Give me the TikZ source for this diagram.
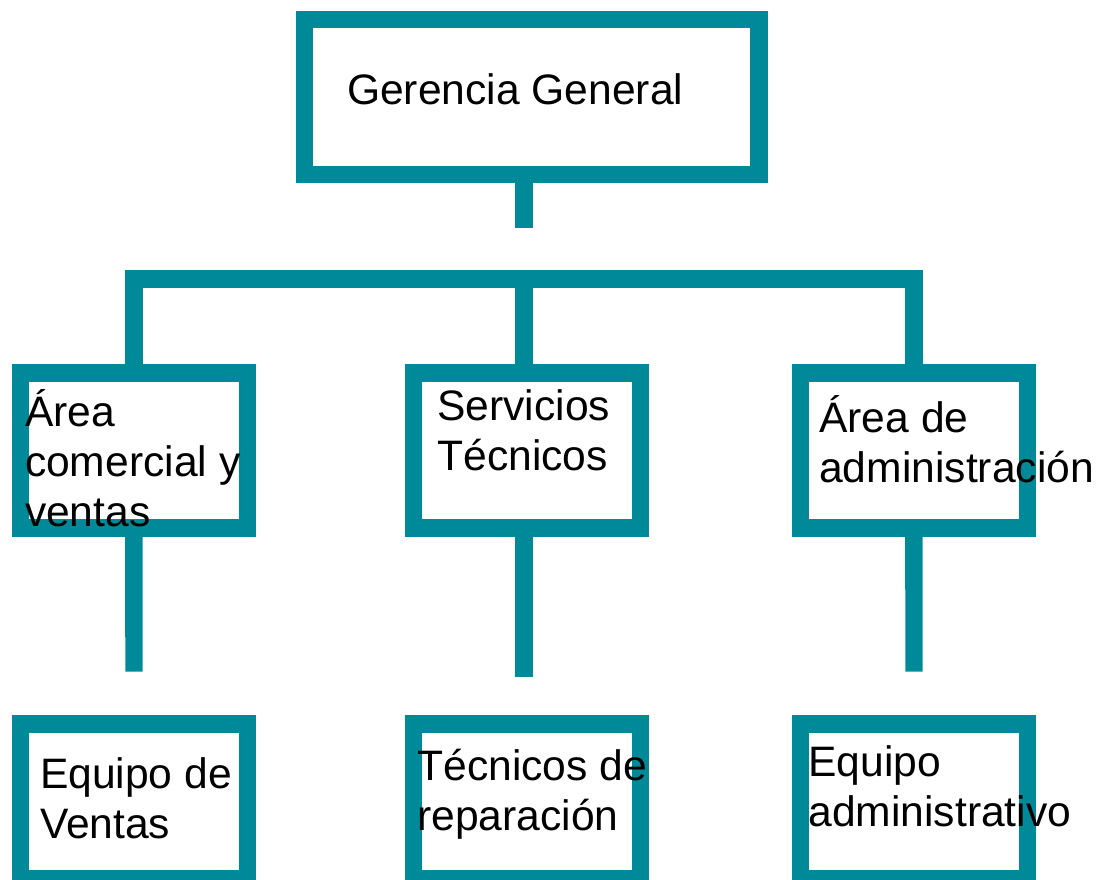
\documentclass[tikz,border=0pt]{standalone}
\usepackage{fontspec}
\setmainfont{Liberation Sans}
\usepackage{tikz}

\definecolor{orgteal}{RGB}{0,138,153}

\begin{document}
\begin{tikzpicture}[x=1pt, y=-1pt, line width=17.4pt, draw=orgteal]
	\tikzset{unit/.style={rectangle, draw=orgteal, fill=white, inner sep=0pt, minimum width=227pt, minimum height=155pt},
		lbl/.style={anchor=base west, inner sep=0pt, outer sep=0pt, align=left, font=\fontsize{42.6}{50}\selectfont}}
	\useasboundingbox (0,0) rectangle (1103,879);
	\node[unit, minimum width=454.5pt, minimum height=154.7pt] (gg) at (531.75,97) {};
	\node[unit] (com) at (133.8,450.5) {};
	\node[unit] (tec) at (527.2,450.5) {};
	\node[unit] (adm) at (913.9,450.5) {};
	\node[unit] (ven) at (133.8,801.3) {};
	\node[unit] (rep) at (527.2,801.3) {};
	\node[unit] (eqa) at (913.9,801.3) {};
	\coordinate (stem) at (524,227.7);
	\coordinate (bus) at (524,279);
	\coordinate (comend) at (134,671.7);
	\coordinate (tecend) at (524,677.3);
	\coordinate (admend) at (914,671.7);
	\draw[orgteal] (gg.south -| stem) -- (stem);
	\draw[orgteal] (com.north) |- (bus) -| (adm.north);
	\draw[orgteal] (bus) -- (bus |- tec.north);
	\draw[orgteal] (com.south) -- (comend);
	\draw[orgteal] (tecend |- tec.south) -- (tecend);
	\draw[orgteal] (adm.south) -- (admend);
	\node[lbl] (gg-txt) at (347,104.3) {Gerencia General};
	\node[lbl] (com-txt) at (25,526.7) {Área\\comercial y\\ventas};
	\node[lbl] (tec-txt) at (437.3,470.7) {Servicios\\Técnicos};
	\node[lbl] (adm-txt) at (819.3,482) {Área de\\administración};
	\node[lbl] (ven-txt) at (40,838.3) {Equipo de\\Ventas};
	\node[lbl] (rep-txt) at (417.3,830) {Técnicos de\\reparación};
	\node[lbl] (eqa-txt) at (808.4,826) {Equipo\\administrativo};
\end{tikzpicture}
\end{document}
